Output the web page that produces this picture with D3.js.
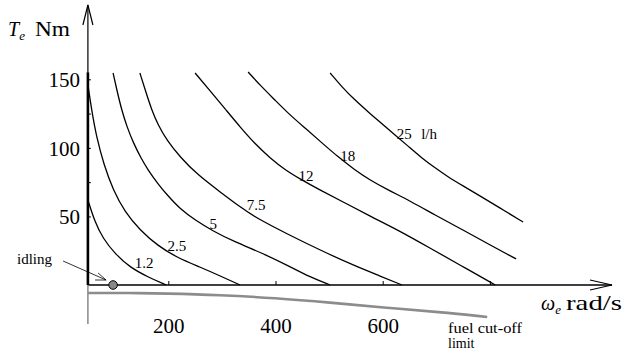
<!DOCTYPE html>
<html>
<head>
<meta charset="utf-8">
<title>Engine fuel map</title>
<script src="https://cdn.jsdelivr.net/npm/d3@7"></script>
<style>
	body { margin: 0; background: #fff; }
	svg text { font-family: "Liberation Serif", "Times New Roman", serif; fill: #000; }
</style>
</head>
<body>
<div id="chart"></div>
<script>
	const SERIF = '"Liberation Serif", "Times New Roman", serif';

	// fuel flow of every iso-line (l/h)
	const fuelRates = ["1.2", "2.5", "5", "7.5", "12", "18", "25"];

	// iso-fuel lines, [omega rad/s, torque Nm]
	const line12 = [[50, 62], [63, 46], [78, 34], [101, 22.6], [128, 13], [162, 5.8], [196, 0]];
	const line25 = [[50, 145.8], [57, 127.6], [66, 107.9], [80, 87.5], [97, 69.3], [119, 53.2], [147, 40.1],
		[181, 28.4], [218, 19.7], [259, 13.1], [297, 6.6], [334, 0]];
	const line5 = [[97, 154.6], [104, 142.2], [113, 127.6], [123, 115.2], [135, 103.5], [149, 92.6], [162, 83.9],
		[181, 73.6], [198, 65.6], [222, 55.4], [250, 47.4], [283, 39.4], [324, 31.4], [375, 23.3], [423, 14.2],
		[464, 5.8], [502, 0]];
	const line75 = [[147, 154.6], [157, 142.2], [169, 127.6], [181, 116.7], [197, 105.7], [222, 93.3], [255, 80.2],
		[297, 67.8], [334, 56.9], [364, 48.9], [422, 37.2], [483, 25.5], [548, 13.9], [595, 6.6], [636, 0]];
	const line120 = [[250, 154.6], [278, 141.5], [306, 128.4], [334, 115.2], [362, 102.8], [390, 92.6], [418, 83.9],
		[446, 77.3], [483, 69.3], [530, 59.8], [576, 50.3], [632, 39.4], [688, 27], [744, 14.6], [810, 0]];
	const line180 = [[349, 155.3], [371, 145.8], [399, 134.9], [423, 125.4], [455, 114.5], [487, 103.5], [517, 93.3],
		[548, 83.9], [576, 76.6], [610, 69.3], [651, 61.3], [698, 51], [750, 40.1], [800, 29.2], [849, 19]];
	const line250 = [[502, 154.6], [524, 144.4], [548, 134.9], [573, 126.2], [599, 117.4], [623, 109.4], [647, 101.4],
		[673, 92.6], [698, 85.3], [722, 78.8], [750, 72.2], [782, 64.9], [819, 56.1], [862, 45.9]];
	const isoLines = [line12, line25, line5, line75, line120, line180, line250];

	// where each rate is written, [omega, torque]
	const labelSpots = [[155, 16], [216, 28.8], [284, 44.5], [364, 58.3], [457, 79.4], [535, 94.1], [640, 110.6]];

	// fuel cut-off limit (negative torque)
	const cutOff = [[50, -5.8], [128, -5.8], [194, -6.2], [297, -7.3], [399, -9.5], [502, -12.8], [601, -16.4],
		[707, -19.7], [795, -23.3]];

	const idleSpeed = 97;
	const omegaMin = 50;
	const xTicks = [200, 400, 600, 800];
	const yTicks = [50, 75, 100, 125, 150];

	const width = 627, height = 357;
	const svg = d3.select("#chart").append("svg")
		.attr("width", width).attr("height", height)
		.attr("font-family", SERIF);

	const x = d3.scaleLinear().domain([0, 800]).range([61.1, 489.9]);
	const y = d3.scaleLinear().domain([0, 150]).range([285, 79.3]);

	const x0 = x(omegaMin), y0 = y(0);

	// axes
	const xAxis = d3.axisBottom(x).tickValues(xTicks).tickSize(-4).tickPadding(33)
		.tickFormat(d => d < 800 ? d : "");
	const gx = svg.append("g").attr("transform", `translate(0,${y0})`).call(xAxis)
		.attr("font-family", SERIF).attr("font-size", 21);
	gx.select(".domain").remove();
	gx.selectAll("line").attr("stroke-width", 1);

	const yAxis = d3.axisLeft(y).tickValues(yTicks).tickSize(-3).tickPadding(8)
		.tickFormat(d => d % 50 === 0 ? d : "");
	const gy = svg.append("g").attr("transform", `translate(${x0},0)`).call(yAxis)
		.attr("font-family", SERIF).attr("font-size", 21);
	gy.select(".domain").remove();
	gy.selectAll("text").attr("dy", "0.36em");

	// x axis line + arrow
	svg.append("line").attr("x1", x0).attr("x2", 612).attr("y1", y0).attr("y2", y0)
		.attr("stroke", "#000").attr("stroke-width", 1.6);
	svg.append("path").attr("d", `M590,${y0 - 5}L612,${y0}L590,${y0 + 5}`)
		.attr("fill", "none").attr("stroke", "#000").attr("stroke-width", 1.2);

	// y axis: thin part with arrow, thick part over the torque range
	svg.append("line").attr("x1", x0).attr("x2", x0).attr("y1", 5).attr("y2", y0)
		.attr("stroke", "#000").attr("stroke-width", 1.2);
	svg.append("line").attr("x1", x0).attr("x2", x0).attr("y1", y(155)).attr("y2", y0)
		.attr("stroke", "#000").attr("stroke-width", 2.6);
	svg.append("path").attr("d", `M${x0 - 5},25L${x0},5L${x0 + 5},25`)
		.attr("fill", "none").attr("stroke", "#000").attr("stroke-width", 1.2);

	// gray part below the x axis
	svg.append("line").attr("x1", x0).attr("x2", x0).attr("y1", y0).attr("y2", y(-28.5))
		.attr("stroke", "#888").attr("stroke-width", 1.5);

	const line = d3.line().x(d => x(d[0])).y(d => y(d[1])).curve(d3.curveBasis);

	svg.append("path").datum(cutOff).attr("d", line)
		.attr("fill", "none").attr("stroke", "#8c8c8c").attr("stroke-width", 2.6);

	svg.selectAll(".iso").data(isoLines).join("path")
		.attr("class", "iso")
		.attr("d", line)
		.attr("fill", "none").attr("stroke", "#000").attr("stroke-width", 1.3);

	svg.selectAll(".rate").data(fuelRates).join("text")
		.attr("class", "rate")
		.attr("x", (d, i) => x(labelSpots[i][0]))
		.attr("y", (d, i) => y(labelSpots[i][1]))
		.attr("dy", "0.35em")
		.attr("text-anchor", "middle")
		.style("font-size", "15px")
		.text(d => d);
	svg.append("text")
		.attr("x", x(labelSpots[6][0]) + 25).attr("y", y(labelSpots[6][1]))
		.attr("dy", "0.35em").attr("text-anchor", "middle")
		.style("font-size", "15px").text("l/h");

	// idling point
	const ix = x(idleSpeed);
	svg.append("path")
		.attr("d", `M${ix - 50},${y0 - 24}L${ix - 7},${y0 - 5}M${ix - 18},${y0 - 5}L${ix - 7},${y0 - 5}L${ix - 15},${y0 - 12}`)
		.attr("fill", "none").attr("stroke", "#000").attr("stroke-width", 0.8);
	svg.append("circle").attr("cx", ix).attr("cy", y0).attr("r", 4.3)
		.attr("fill", "#888").attr("stroke", "#000").attr("stroke-width", 1);
	svg.append("text").attr("x", 17).attr("y", y0 - 21).style("font-size", "15px").text("idling");

	// axis titles
	const yt = svg.append("text").attr("x", 8).attr("y", 36).style("font-size", "20px");
	yt.append("tspan").style("font-style", "italic").text("T");
	yt.append("tspan").style("font-style", "italic").style("font-size", "13px").attr("dy", 4).text("e");
	svg.append("text").attr("x", 35).attr("y", 36).style("font-size", "20px")
		.attr("textLength", 35).attr("lengthAdjust", "spacingAndGlyphs").text("Nm");

	const xt = svg.append("text").attr("x", 541).attr("y", 310).style("font-size", "20px");
	xt.append("tspan").style("font-style", "italic").text("ω");
	xt.append("tspan").style("font-style", "italic").style("font-size", "13px").attr("dy", 4).text("e");
	svg.append("text").attr("x", 566).attr("y", 310).style("font-size", "21px")
		.attr("textLength", 56).attr("lengthAdjust", "spacingAndGlyphs").text("rad/s");

	svg.append("text").attr("x", 448).attr("y", 333).style("font-size", "14px")
		.attr("textLength", 74).attr("lengthAdjust", "spacingAndGlyphs").text("fuel cut-off");
	svg.append("text").attr("x", 448).attr("y", 348).style("font-size", "14px").text("limit");
</script>
</body>
</html>
